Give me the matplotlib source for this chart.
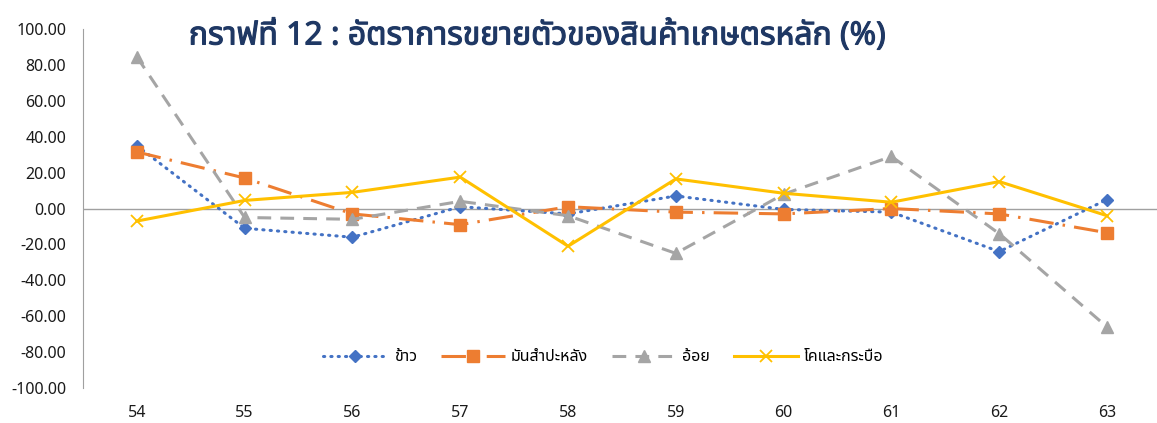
import matplotlib
matplotlib.use("Agg")
import matplotlib.pyplot as plt
import matplotlib.patheffects as pe
from matplotlib import font_manager
from fontTools.ttLib import TTFont

# ปี พ.ศ. (สองหลักท้าย)
years = ["54", "55", "56", "57", "58", "59", "60", "61", "62", "63"]

# อัตราการขยายตัว (%)
rice = [35, -11, -16, 1, -3, 7, -0.5, -2, -24, 5]
cassava = [31.5, 17, -3, -9, 1, -2, -3, 0, -3, -13.5]
sugarcane = [84.5, -5, -6, 4, -4, -25, 8, 29, -14, -66]
maize = [-7, 4.5, 9, 17.5, -21, 16.5, 8.5, 3.5, 15, -4]

series_names = ["ข้าว", "มันสำปะหลัง", "อ้อย", "โคและกระบือ"]
title = "กราฟที่ 12 : อัตราการขยายตัวของสินค้าเกษตรหลัก (%)"


def find_thai_font():
    # หา font ที่มีตัวอักษรไทย
    names = []
    for f in font_manager.fontManager.ttflist:
        try:
            cmap = TTFont(f.fname, fontNumber=0, lazy=True).getBestCmap()
        except Exception:
            continue
        if cmap and 0x0E01 in cmap and 0x0E49 in cmap:
            names.append(f.name)
    for pref in ["Tahoma", "Noto Sans Thai", "Noto Sans Thai UI", "Loma", "Garuda", "Sarabun"]:
        if pref in names:
            return pref
    return names[0] if names else None


thai = find_thai_font()
fams = [thai, "DejaVu Sans"] if thai else ["DejaVu Sans"]
plt.rcParams["font.family"] = fams

fig = plt.figure(figsize=(11.57, 4.23), dpi=100)
ax = fig.add_axes([0.0717, 0.0827, 0.9317, 0.8487])

x = list(range(len(years)))
ax.plot(x, rice, color="#4472C4", lw=2.2, linestyle=(0, (0.4, 2.0)),
        dash_capstyle="round", marker="D", ms=6, label=series_names[0])
ax.plot(x, cassava, color="#ED7D31", lw=2.2, linestyle=(0, (8, 3, 0.8, 3)),
        marker="s", ms=8, label=series_names[1])
ax.plot(x, sugarcane, color="#A5A5A5", lw=2.2, linestyle=(0, (4.5, 3)),
        marker="^", ms=8, label=series_names[2])
ax.plot(x, maize, color="#FFC000", lw=2.2, marker="x", ms=8, mew=1.3,
        label=series_names[3])

ax.axhline(0, color="#A0A0A0", lw=1, zorder=0)

ax.set_xlim(-0.5, len(years) - 0.5)
ax.set_ylim(-100, 100)
ax.set_yticks(range(-100, 101, 20))
ax.set_yticklabels([f"{v:.2f}" for v in range(-100, 101, 20)])
ax.set_xticks(x)
ax.set_xticklabels(years)
ax.tick_params(axis="y", length=0, pad=12, labelsize=11.5, labelcolor="#1a1a1a")
ax.tick_params(axis="x", length=0, pad=12, labelsize=11.5, labelcolor="#1a1a1a")

for s in ["top", "right", "bottom"]:
    ax.spines[s].set_visible(False)
ax.spines["left"].set_color("#A0A0A0")

ax.legend(loc="center", bbox_to_anchor=(0.483, 0.086), ncol=4, frameon=False,
          handlelength=4.0, fontsize=11.5, columnspacing=1.5, handletextpad=0.4)

t = fig.text(0.464, 0.915, title, ha="center", va="center", fontsize=23,
             fontweight="bold", color="#1F3864")
t.set_path_effects([pe.withStroke(linewidth=0.8, foreground="#1F3864")])

fig.savefig("out.png", dpi=100)
